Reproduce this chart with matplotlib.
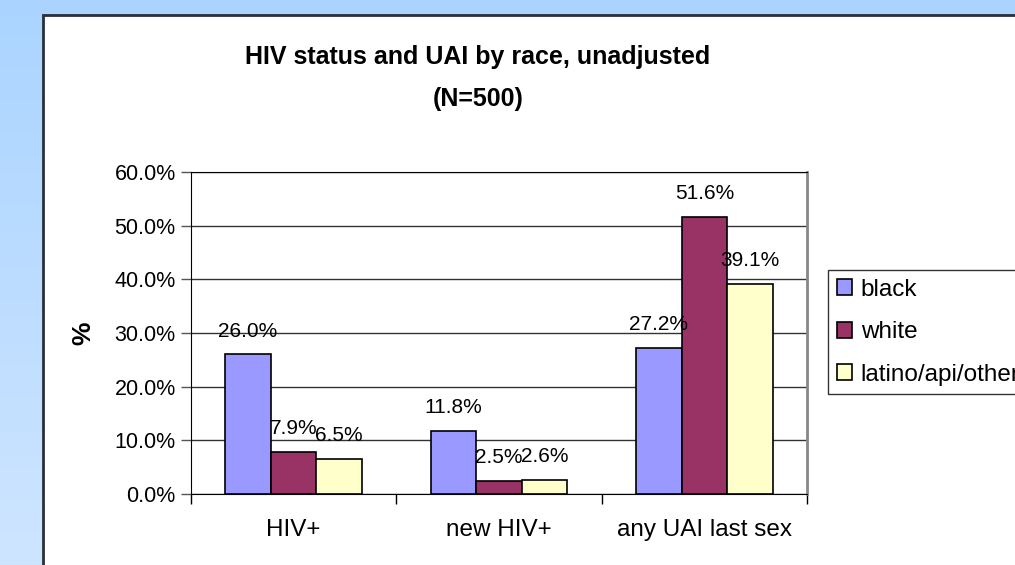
import numpy as np
import matplotlib.pyplot as plt
from matplotlib.patches import Rectangle

categories = ["HIV+", "new HIV+", "any UAI last sex"]
black = [26.0, 11.8, 27.2]
white = [7.9, 2.5, 51.6]
latino = [6.5, 2.6, 39.1]
series_names = ["black", "white", "latino/api/other"]
yticks = [0, 10, 20, 30, 40, 50, 60]

plt.rcParams["font.family"] = ["Liberation Sans", "DejaVu Sans"]

fig = plt.figure(figsize=(10.15, 5.65), dpi=100)

# slide background gradient
bg = fig.add_axes([0, 0, 1, 1])
grad = np.linspace(0, 1, 256).reshape(-1, 1)
top = np.array([170, 212, 255]) / 255
bot = np.array([206, 229, 255]) / 255
img = top + (bot - top) * grad[:, :, None]
bg.imshow(img, aspect="auto", extent=[0, 1, 0, 1], origin="upper")
bg.set_xlim(0, 1)
bg.set_ylim(0, 1)
bg.axis("off")

# white chart area
bg.add_patch(Rectangle((43 / 1015, -0.1), 1.2, 1.1 - 15 / 565, facecolor="white",
                       edgecolor="#2b2f3a", linewidth=2, zorder=2))

ax = fig.add_axes([191 / 1015, 1 - 494 / 565, (807 - 191) / 1015, (494 - 172) / 565])
ax.set_facecolor("none")

x = np.arange(len(categories))
w = 1 / 4.5
colors = ["#9999FF", "#993366", "#FFFFCC"]
for i, (vals, name, c) in enumerate(zip([black, white, latino], series_names, colors)):
    bars = ax.bar(x + (i - 1) * w, vals, w, color=c, edgecolor="black", linewidth=1.2,
                  label=name, zorder=3)
    for b, v in zip(bars, vals):
        ax.annotate(f"{v:.1f}%", (b.get_x() + b.get_width() / 2, v), xytext=(0, 10),
                    textcoords="offset points", ha="center", va="bottom", fontsize=15, zorder=4)

ax.set_xlim(-0.5, 2.5)
ax.set_ylim(0, 60)
ax.set_yticks(yticks)
ax.set_yticklabels([f"{t:.1f}%" for t in yticks], fontsize=15.5)
ax.yaxis.grid(True, color="#333333", linewidth=1)
ax.set_axisbelow(True)
ax.set_xticks(x)
ax.set_xticklabels(categories, fontsize=17.5)
ax.tick_params(axis="x", length=0, pad=18)
ax.set_xticks([-0.5, 0.5, 1.5, 2.5], minor=True)
ax.tick_params(axis="x", which="minor", length=7, color="black", width=1)
ax.tick_params(axis="y", length=7, width=1, color="#555555", pad=4)
for s in ["left", "bottom", "top"]:
    ax.spines[s].set_color("black")
ax.spines["right"].set_color("#888888")
ax.spines["right"].set_linewidth(2)
ax.set_ylabel("%", fontsize=19, fontweight="bold", labelpad=14)

fig.text(478 / 1015, 1 - 78 / 565, "HIV status and UAI by race, unadjusted\n(N=500)",
         ha="center", va="center", fontsize=18, fontweight="bold", linespacing=1.9)

leg = ax.legend(loc="upper left", bbox_to_anchor=(828 / 1015, 1 - 270 / 565),
                bbox_transform=fig.transFigure, fontsize=17.5, frameon=True, fancybox=False,
                edgecolor="black", borderaxespad=0, handlelength=0.65, handleheight=0.65,
                handletextpad=0.35, labelspacing=0.85, borderpad=0.35)
leg.get_frame().set_linewidth(1)

fig.savefig("out.png", dpi=100)
